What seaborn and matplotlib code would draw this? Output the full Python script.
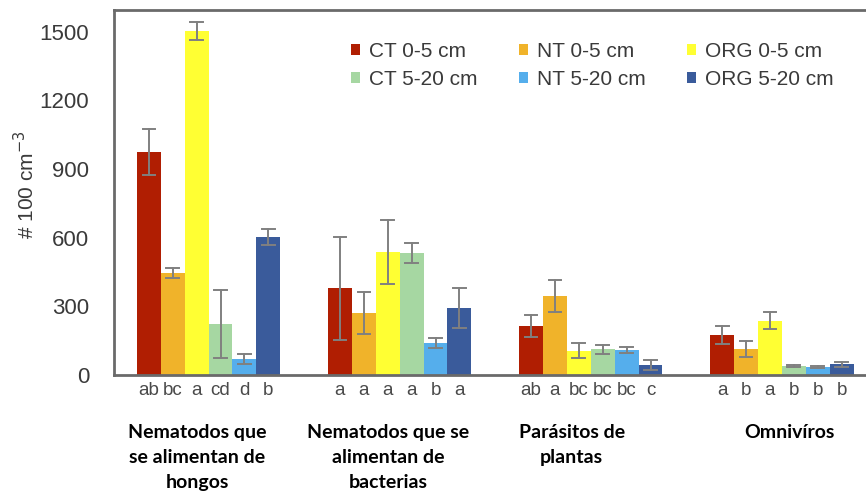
import pandas as pd
import matplotlib
matplotlib.use("Agg")
import matplotlib.pyplot as plt
from matplotlib.patches import Patch
import seaborn as sns

plt.rcParams["font.family"] = ["Liberation Sans", "DejaVu Sans"]

groups = ["Nematodos que\nse alimentan de\nhongos",
          "Nematodos que se\nalimentan de\nbacterias",
          "Parásitos de\nplantas",
          "Omnivíros"]
treatments = ["CT 0-5 cm", "NT 0-5 cm", "ORG 0-5 cm",
              "CT 5-20 cm", "NT 5-20 cm", "ORG 5-20 cm"]
colors = ["#B01E02", "#F0B32A", "#FFFF33", "#A6D7A2", "#55AEEC", "#3A5B9B"]

# mean per group, in treatment order
ct05 = [975, 380, 214, 175]
nt05 = [447, 271, 345, 114]
org05 = [1504, 539, 106, 238]
ct520 = [223, 533, 112, 38]
nt520 = [71, 140, 109, 35]
org520 = [603, 294, 44, 46]

# error (half range) per group
ct05_err = [100, 225, 48, 39]
nt05_err = [22, 92, 70, 36]
org05_err = [38, 140, 33, 38]
ct520_err = [150, 42, 20, 5]
nt520_err = [22, 20, 15, 5]
org520_err = [35, 88, 22, 12]

letters = [["ab", "bc", "a", "cd", "d", "b"],
           ["a", "a", "a", "a", "b", "a"],
           ["ab", "a", "bc", "bc", "bc", "c"],
           ["a", "b", "a", "b", "b", "b"]]

means = [ct05, nt05, org05, ct520, nt520, org520]
errs = [ct05_err, nt05_err, org05_err, ct520_err, nt520_err, org520_err]

rows = []
for t, m_list, e_list in zip(treatments, means, errs):
    for g, m, e in zip(groups, m_list, e_list):
        rows.append({"grupo": g, "trat": t, "val": m - e})
        rows.append({"grupo": g, "trat": t, "val": m + e})
df = pd.DataFrame(rows)

fig = plt.figure(figsize=(8.66, 4.91), dpi=100)
ax = fig.add_axes([114 / 866, 1 - 375 / 491, 1 - 114 / 866, 365 / 491])

sns.barplot(data=df, x="grupo", y="val", hue="trat", order=groups,
            hue_order=treatments, palette=colors, estimator="mean",
            errorbar=lambda v: (v.min(), v.max()), capsize=0.4,
            err_kws={"color": "#808080", "linewidth": 1.4},
            width=0.75, gap=0, saturation=1, legend=False, ax=ax)

ax.set_xlim(-0.495, 3.44)
ax.set_ylim(0, 1595)
ax.set_yticks([0, 300, 600, 900, 1200, 1500])
ax.tick_params(axis="both", length=0)
ax.tick_params(axis="y", labelsize=16, labelcolor="#3a3a3a", pad=18)
ax.set_xticks([])
ax.set_xlabel("")
ax.set_ylabel("# 100 cm$^{-3}$", fontsize=15, color="#3a3a3a")
ax.yaxis.set_label_coords((38 - 114) / 752, (375 - 185) / 365)

for side in ["left", "top", "bottom"]:
    ax.spines[side].set_color("#6a6a6a")
    ax.spines[side].set_linewidth(2)
ax.spines["right"].set_visible(False)

# significance letters under each bar
for i, cont in enumerate(ax.containers):
    for j, bar in enumerate(cont):
        xc = bar.get_x() + bar.get_width() / 2
        ax.text(xc, -0.042, letters[j][i], transform=ax.get_xaxis_transform(),
                ha="center", va="center", fontsize=13.5, color="#4a4a4a")

label_dx = [-0.06, -0.06, -0.1, 0.04]
for j, g in enumerate(groups):
    ax.text(j + label_dx[j], -0.133, g, transform=ax.get_xaxis_transform(),
            ha="center", va="top", fontsize=14, fontweight="bold",
            family="Lato", linespacing=1.6, color="black")

handles = [Patch(facecolor=colors[k], edgecolor="none") for k in [0, 3, 1, 4, 2, 5]]
labels = [treatments[k] for k in [0, 3, 1, 4, 2, 5]]
ax.legend(handles, labels, ncol=3, frameon=False, fontsize=15,
          loc="upper left", bbox_to_anchor=(351 / 866, 1 - 42 / 491),
          bbox_transform=fig.transFigure, borderaxespad=0, borderpad=0,
          handlelength=0.45, handleheight=0.45, handletextpad=0.4,
          columnspacing=2.0, labelspacing=0.42, labelcolor="#3a3a3a")

fig.savefig("out.png", dpi=100)
